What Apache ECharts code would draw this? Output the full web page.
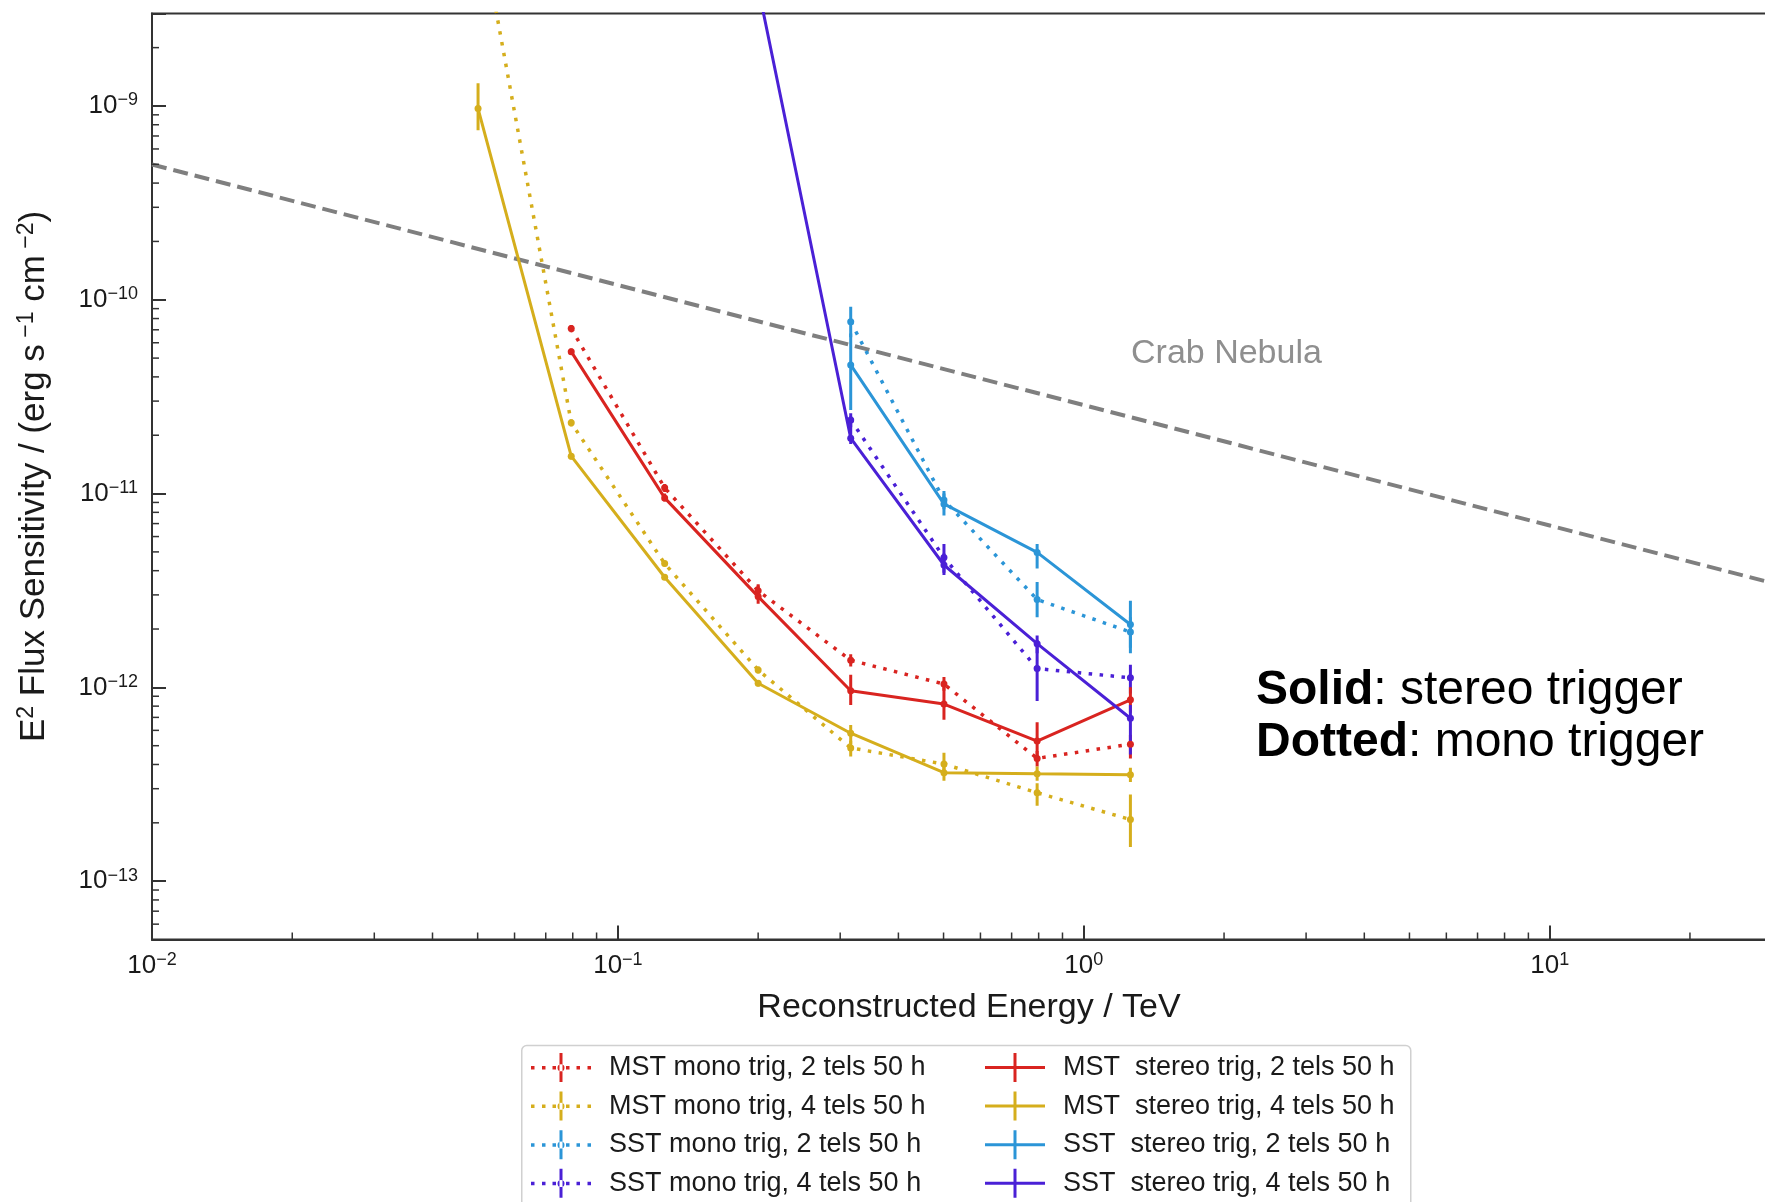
<!DOCTYPE html>
<html><head><meta charset="utf-8">
<script src="https://cdn.jsdelivr.net/npm/echarts@6/dist/echarts.min.js"></script>
<style>html,body{margin:0;padding:0;background:#fff}#c{width:1765px;height:1202px}</style>
</head><body><div id="c"></div>
<script>
// ---- data ----
const energy = [0.0501, 0.0794, 0.126, 0.200, 0.316, 0.501, 0.794, 1.259];

const mstMono2   = [null, 7.1e-11, 1.07e-11, 3.15e-12, 1.38e-12, 1.04e-12, 4.3e-13, 5.09e-13];
const mstMono2Lo = [null, 6.8e-11, 1.02e-11, 2.95e-12, 1.28e-12, 9.6e-13, 3.9e-13, 4.3e-13];
const mstMono2Hi = [null, 7.4e-11, 1.12e-11, 3.35e-12, 1.48e-12, 1.13e-12, 4.7e-13, 5.7e-13];

const mstMono4   = [1.0e-8, 2.32e-11, 4.35e-12, 1.23e-12, 4.87e-13, 4.02e-13, 2.86e-13, 2.08e-13];
const mstMono4Lo = [null, 2.22e-11, 4.2e-12, 1.18e-12, 4.4e-13, 3.6e-13, 2.45e-13, 1.5e-13];
const mstMono4Hi = [null, 2.42e-11, 4.5e-12, 1.28e-12, 5.3e-13, 4.6e-13, 3.2e-13, 2.8e-13];

const sstMono2   = [null, null, null, null, 7.7e-11, 9.25e-12, 2.84e-12, 1.93e-12];
const sstMono2Lo = [null, null, null, null, 6.4e-11, 8.3e-12, 2.3e-12, 1.6e-12];
const sstMono2Hi = [null, null, null, null, 9.2e-11, 1.0e-11, 3.5e-12, 2.3e-12];

const sstMono4   = [null, null, null, null, 2.4e-11, 4.68e-12, 1.25e-12, 1.12e-12];
const sstMono4Lo = [null, null, null, null, 2.2e-11, 3.9e-12, 8.5e-13, 9.3e-13];
const sstMono4Hi = [null, null, null, null, 2.6e-11, 5.5e-12, 1.75e-12, 1.31e-12];

const mstStereo2   = [null, 5.4e-11, 9.5e-12, 2.94e-12, 9.6e-13, 8.2e-13, 5.28e-13, 8.63e-13];
const mstStereo2Lo = [null, 5.2e-11, 9.1e-12, 2.7e-12, 8.1e-13, 6.8e-13, 4.3e-13, 7.4e-13];
const mstStereo2Hi = [null, 5.6e-11, 1.0e-11, 3.4e-12, 1.16e-12, 1.0e-12, 6.6e-13, 1.0e-12];

const mstStereo4   = [9.7e-10, 1.56e-11, 3.7e-12, 1.05e-12, 5.8e-13, 3.63e-13, 3.58e-13, 3.54e-13];
const mstStereo4Lo = [7.5e-10, 1.5e-11, 3.58e-12, 1.01e-12, 5.1e-13, 3.3e-13, 3.3e-13, 3.25e-13];
const mstStereo4Hi = [1.31e-9, 1.62e-11, 3.85e-12, 1.09e-12, 6.4e-13, 4.1e-13, 3.9e-13, 3.85e-13];

const sstStereo2   = [null, null, null, null, 4.61e-11, 8.84e-12, 4.97e-12, 2.11e-12];
const sstStereo2Lo = [null, null, null, null, 2.7e-11, 7.7e-12, 4.1e-12, 1.5e-12];
const sstStereo2Hi = [null, null, null, null, 6.7e-11, 1.03e-11, 5.5e-12, 2.8e-12];

const sstStereo4   = [null, null, null, 4.1e-9, 1.93e-11, 4.28e-12, 1.68e-12, 6.93e-13];
const sstStereo4Lo = [null, null, null, null, 1.8e-11, 3.8e-12, 1.5e-12, 4.5e-13];
const sstStereo4Hi = [null, null, null, null, 2.5e-11, 4.9e-12, 1.85e-12, 8.1e-13];

const crabEnergy = [0.01, 0.1, 1, 10, 30];
const crabFlux   = [4.99e-10, 1.19e-10, 2.86e-11, 6.84e-12, 3.46e-12];

const xTickValues = [0.01, 0.1, 1, 10];
const xTickExp    = ['\u22122', '\u22121', '0', '1'];
const yTickValues = [1e-13, 1e-12, 1e-11, 1e-10, 1e-9];
const yTickExp    = ['\u221213', '\u221212', '\u221211', '\u221210', '\u22129'];
const xMinorTicks = [0.02,0.03,0.04,0.05,0.06,0.07,0.08,0.09,0.2,0.3,0.4,0.5,0.6,0.7,0.8,0.9,2,3,4,5,6,7,8,9,20];
const yMinorTicks = [6e-14,7e-14,8e-14,9e-14,
  2e-13,3e-13,4e-13,5e-13,6e-13,7e-13,8e-13,9e-13,
  2e-12,3e-12,4e-12,5e-12,6e-12,7e-12,8e-12,9e-12,
  2e-11,3e-11,4e-11,5e-11,6e-11,7e-11,8e-11,9e-11,
  2e-10,3e-10,4e-10,5e-10,6e-10,7e-10,8e-10,9e-10, 2e-9];

const X_MIN = 0.01, X_MAX = 30, Y_MIN = 5e-14, Y_MAX = 3e-9;

// ---- styling ----
const RED = '#d92420', GOLD = '#d5ae1c', LBLUE = '#2b95d7', PURPLE = '#4a20d6';
const FONT = 'Liberation Sans';
const ICON_SOLID = 'path://M0,13H60V16H0Z M28.5,0H31.5V29H28.5Z';
const ICON_DOT = 'path://M0,13H3.5V16.5H0Z M11,13H14.5V16.5H11Z M21.5,13H25V16.5H21.5Z M35,13H38.5V16.5H35Z M45.5,13H49V16.5H45.5Z M56.5,13H60V16.5H56.5Z M28.5,0H31.5V29H28.5Z M26.5,14.75a3.5,3.5 0 1,0 7,0a3.5,3.5 0 1,0 -7,0Z';

const groups = [
  {name: 'MST mono trig, 2 tels 50 h', y: mstMono2, lo: mstMono2Lo, hi: mstMono2Hi, color: RED, dotted: true},
  {name: 'MST mono trig, 4 tels 50 h', y: mstMono4, lo: mstMono4Lo, hi: mstMono4Hi, color: GOLD, dotted: true},
  {name: 'SST mono trig, 2 tels 50 h', y: sstMono2, lo: sstMono2Lo, hi: sstMono2Hi, color: LBLUE, dotted: true},
  {name: 'SST mono trig, 4 tels 50 h', y: sstMono4, lo: sstMono4Lo, hi: sstMono4Hi, color: PURPLE, dotted: true},
  {name: 'MST  stereo trig, 2 tels 50 h', y: mstStereo2, lo: mstStereo2Lo, hi: mstStereo2Hi, color: RED, dotted: false},
  {name: 'MST  stereo trig, 4 tels 50 h', y: mstStereo4, lo: mstStereo4Lo, hi: mstStereo4Hi, color: GOLD, dotted: false},
  {name: 'SST  stereo trig, 2 tels 50 h', y: sstStereo2, lo: sstStereo2Lo, hi: sstStereo2Hi, color: LBLUE, dotted: false},
  {name: 'SST  stereo trig, 4 tels 50 h', y: sstStereo4, lo: sstStereo4Lo, hi: sstStereo4Hi, color: PURPLE, dotted: false}
];

function errRender(params, api) {
  const x = api.value(0);
  const a = api.coord([x, api.value(1)]);
  const b = api.coord([x, api.value(2)]);
  return {type: 'line', shape: {x1: a[0], y1: a[1], x2: b[0], y2: b[1]},
          style: {stroke: api.visual('color'), lineWidth: 3}};
}

const series = [];
series.push({
  type: 'line', name: 'Crab', data: crabEnergy.map((e, i) => [e, crabFlux[i]]),
  symbol: 'none', lineStyle: {color: '#7f7f7f', width: 4, type: [15, 7]}, z: 1, silent: true
});
groups.forEach(g => {
  const pts = [], errs = [];
  energy.forEach((e, i) => {
    if (g.y[i] != null) pts.push([e, g.y[i]]);
    if (g.lo[i] != null) errs.push([e, g.lo[i], g.hi[i]]);
  });
  series.push({
    type: 'line', name: g.name, data: pts, symbol: 'circle', symbolSize: 7, showSymbol: true,
    itemStyle: {color: g.color}, clip: true, z: 3,
    lineStyle: {color: g.color, width: g.dotted ? 3.5 : 3, type: g.dotted ? [3.5, 7.5] : 'solid', cap: 'butt'},
    emphasis: {disabled: true}
  });
  series.push({
    type: 'custom', name: g.name + ' err', data: errs, renderItem: errRender, clip: true,
    itemStyle: {color: g.color}, encode: {x: 0, y: [1, 2]}, z: 3, silent: true
  });
});
// minor ticks, positioned through the axes
series.push({
  type: 'custom', name: 'xminor', data: xMinorTicks.map(v => [v, Y_MIN]), silent: true, z: 5,
  renderItem: (p, api) => { const c = api.coord([api.value(0), Y_MIN]);
    return {type: 'line', shape: {x1: c[0], y1: c[1], x2: c[0], y2: c[1] - 7}, style: {stroke: '#333', lineWidth: 1.5}}; }
});
series.push({
  type: 'custom', name: 'yminor', data: yMinorTicks.map(v => [X_MIN, v]), silent: true, z: 5,
  renderItem: (p, api) => { const c = api.coord([X_MIN, api.value(1)]);
    return {type: 'line', shape: {x1: c[0], y1: c[1], x2: c[0] + 7, y2: c[1]}, style: {stroke: '#333', lineWidth: 1.5}}; }
});

function fmt(values, exps) {
  return function (v) {
    for (let i = 0; i < values.length; i++) {
      if (Math.abs(Math.log10(v) - Math.log10(values[i])) < 1e-6) return '{b|10}{s|' + exps[i] + '}';
    }
    return '';
  };
}
const tickRich = {
  b: {fontSize: 26, fontFamily: FONT, color: '#1a1a1a', lineHeight: 29},
  s: {fontSize: 18, fontFamily: FONT, color: '#1a1a1a', lineHeight: 15, verticalAlign: 'top'}
};

const legendText = {fontSize: 27, fontFamily: FONT, color: '#1a1a1a', padding: [0, 0, 0, 13]};
const mkLegend = (list, left) => ({
  left: left, top: 1053, orient: 'vertical', padding: 0, itemWidth: 60, itemHeight: 29, itemGap: 9.6,
  selectedMode: false, textStyle: legendText,
  data: list.map(g => ({name: g.name, icon: g.dotted ? ICON_DOT : ICON_SOLID,
                        itemStyle: {color: g.color, borderWidth: 0}}))
});

const option = {
  animation: false,
  backgroundColor: '#fff',
  grid: {left: 152, top: 13.5, width: 1620, bottom: 262.5, outerBoundsMode: 'none', containLabel: false,
         show: true, borderColor: '#333', borderWidth: 2, backgroundColor: 'transparent'},
  xAxis: {
    type: 'log', logBase: 10, min: X_MIN, max: X_MAX,
    axisLine: {show: true, lineStyle: {color: '#333', width: 2}},
    axisTick: {show: true, inside: true, length: 14, lineStyle: {color: '#333', width: 2}},
    splitLine: {show: false}, minorTick: {show: false},
    axisLabel: {margin: 12, formatter: fmt(xTickValues, xTickExp), rich: tickRich, showMinLabel: true},
    name: 'Reconstructed Energy / TeV', nameLocation: 'middle', nameGap: 51,
    nameTextStyle: {fontSize: 34, fontFamily: FONT, color: '#1a1a1a', lineHeight: 34, padding: [0, 0, 0, 14]}
  },
  yAxis: {
    type: 'log', logBase: 10, min: Y_MIN, max: Y_MAX,
    axisLine: {show: true, lineStyle: {color: '#333', width: 2}},
    axisTick: {show: true, inside: true, length: 14, lineStyle: {color: '#333', width: 2}},
    splitLine: {show: false}, minorTick: {show: false},
    axisLabel: {margin: 14, formatter: fmt(yTickValues, yTickExp), rich: tickRich},
    name: '{n|E}{s|2}{n| Flux Sensitivity / (erg s}{s| \u22121}{n| cm}{s| \u22122}{n|)}',
    nameLocation: 'middle', nameRotate: 90, nameGap: 99,
    nameTextStyle: {
      fontSize: 35, fontFamily: FONT, color: '#1a1a1a',
      rich: {
        n: {fontSize: 35, fontFamily: FONT, color: '#1a1a1a', lineHeight: 38},
        s: {fontSize: 23, fontFamily: FONT, color: '#1a1a1a', lineHeight: 22, verticalAlign: 'top'}
      }
    }
  },
  legend: [mkLegend(groups.slice(0, 4), 531), mkLegend(groups.slice(4), 985)],
  graphic: [
    {type: 'rect', left: 521, top: 1044.7, z: -1,
     shape: {width: 889, height: 180, r: 5}, style: {fill: '#fff', stroke: '#d0d0d0', lineWidth: 1.5}},
    {type: 'text', x: 1131, y: 354, z: 10,
     style: {text: 'Crab Nebula', fontSize: 34, fontFamily: FONT, fill: '#8f8f8f', align: 'left', verticalAlign: 'middle'}},
    {type: 'text', x: 1256, y: 665, z: 10,
     style: {text: '{b|Solid}: stereo trigger\n{b|Dotted}: mono trigger',
             fontSize: 48, fontFamily: FONT, fill: '#000', lineHeight: 52, align: 'left', verticalAlign: 'top',
             rich: {b: {fontSize: 48, fontFamily: FONT, fontWeight: 'bold', fill: '#000', lineHeight: 52}}}}
  ],
  series: series
};

const chart = echarts.init(document.getElementById('c'), null, {renderer: 'canvas'});
chart.setOption(option);
</script>
</body></html>
